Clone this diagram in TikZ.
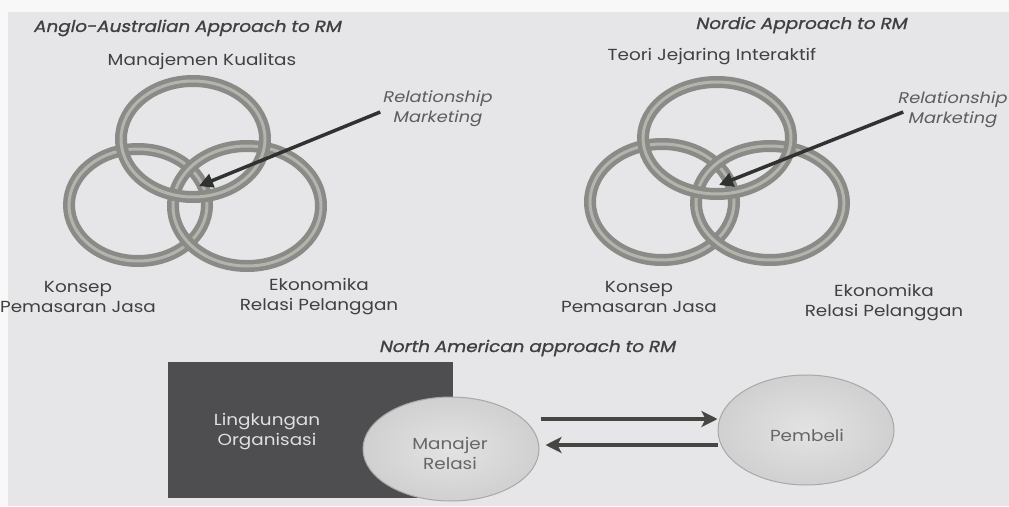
\documentclass[tikz,border=0pt]{standalone}
\usepackage{fontspec}
\setmainfont{Poppins}
\newfontfamily\lblfont[FakeStretch=1.15]{Poppins}
\newfontfamily\slfont[FakeSlant=0.22,FakeStretch=1.15,FakeBold=1.2]{Poppins}
\newfontfamily\rmfont[FakeSlant=0.22,FakeStretch=1.15]{Poppins}
\usetikzlibrary{calc,arrows.meta,shapes.geometric}
\definecolor{bgpage}{HTML}{F8F8F8}
\definecolor{bggray}{HTML}{E6E6E9}
\definecolor{ringdark}{HTML}{8A8A86}
\definecolor{ringlight}{HTML}{B4B4AE}
\definecolor{txt}{HTML}{404040}
\definecolor{arrowc}{HTML}{2F332F}
\definecolor{boxc}{HTML}{4E4E50}
\definecolor{ellfill}{HTML}{D0D0D0}
\definecolor{ellline}{HTML}{A8A8A8}
\begin{document}
\begin{tikzpicture}[x=1pt,y=-1pt,
  ring/.style={ellipse, draw=ringdark, double=ringlight, double distance=3pt, line width=4.5pt, inner sep=0pt},
  lbl/.style={text=txt, align=center, font=\lblfont\fontsize{16}{20}\selectfont, inner sep=0pt},
  ttl/.style={text=txt, align=center, font=\slfont\fontsize{16}{20}\selectfont, inner sep=0pt},
  rmlbl/.style={text=txt!85, align=center, font=\rmfont\fontsize{15.5}{20}\selectfont, inner sep=0pt},
  pointer/.style={draw=arrowc, line width=3.5pt, -{Triangle[length=14pt,width=14pt]}},
  flow/.style={draw=arrowc!90, line width=4.5pt, -{Stealth[length=16pt,width=16pt,inset=4pt]}},
  darkbox/.style={fill=boxc, draw=none, inner sep=0pt},
  oval/.style={ellipse, inner sep=0pt, draw=ellline, line width=1pt, inner color=ellfill!60, outer color=ellfill},
  ovaltxt/.style={text=txt!80, align=center, font=\lblfont\fontsize{16}{20}\selectfont, inner sep=0pt},
  boxtxt/.style={text=white!88!black, align=center, font=\lblfont\fontsize{16}{20}\selectfont, inner sep=0pt}
]
\useasboundingbox (0,0) rectangle (1009,506);
\fill[bgpage] (0,0) rectangle (1009,506);
\fill[bggray] (8,12) rectangle (1009,506);

% ---------- Anglo-Australian ----------
\node[ttl] (ttlA) at (187,28) {Anglo-Australian Approach to RM};
\node[lbl] (mkA) at (202,61) {Manajemen Kualitas};
\node[ring, minimum width=138pt, minimum height=112pt] (lA) at (138,205) {};
\node[ring, minimum width=148pt, minimum height=120pt] (rA) at (247,206) {};
\node[ring, minimum width=144pt, minimum height=116pt] (tA) at (193,139) {};
\node[rmlbl] (rmA) at (437,109) {Relationship\\Marketing};
\coordinate (tipA) at (199,186);
\draw[pointer] ($(rmA.west)+(-2,3)$) -- (tipA);
\node[lbl] (kjA) at (78,297) {Konsep\\Pemasaran Jasa};
\node[lbl] (erA) at (319,297) {Ekonomika\\Relasi Pelanggan};

% ---------- Nordic ----------
\node[ttl] (ttlB) at (801,25) {Nordic Approach to RM};
\node[lbl] (tjB) at (712,57) {Teori Jejaring Interaktif};
\node[ring, minimum width=144pt, minimum height=116pt] (lB) at (662,202) {};
\node[ring, minimum width=148pt, minimum height=114pt] (rB) at (770,203) {};
\node[ring, minimum width=148pt, minimum height=112pt] (tB) at (717,138) {};
\node[rmlbl] (rmB) at (952,110) {Relationship\\Marketing};
\coordinate (tipB) at (719,185);
\draw[pointer] ($(rmB.west)+(6,2)$) -- (tipB);
\node[lbl] (kjB) at (639,297) {Konsep\\Pemasaran Jasa};
\node[lbl] (erB) at (884,303) {Ekonomika\\Relasi Pelanggan};

% ---------- North American ----------
\node[ttl] (ttlC) at (527,348) {North American approach to RM};
\node[darkbox, minimum width=285pt, minimum height=136pt] (org) at (310.5,430) {};
\node[boxtxt] (orgtxt) at (267,432) {Lingkungan\\Organisasi};
\node[oval, minimum width=176pt, minimum height=104pt] (mgr) at (451,449) {};
\node[ovaltxt] (mgrtxt) at (450,453) {Manajer\\Relasi};
\node[oval, minimum width=176pt, minimum height=110pt] (pem) at (806,430) {};
\node[ovaltxt] (pemtxt) at (807,435) {Pembeli};
\draw[flow] ($(mgr.east)+(1,-30)$) -- ($(pem.west)+(0,-11)$);
\draw[flow] ($(pem.west)+(0,15)$) -- ($(mgr.east)+(6,-4)$);
\end{tikzpicture}
\end{document}
